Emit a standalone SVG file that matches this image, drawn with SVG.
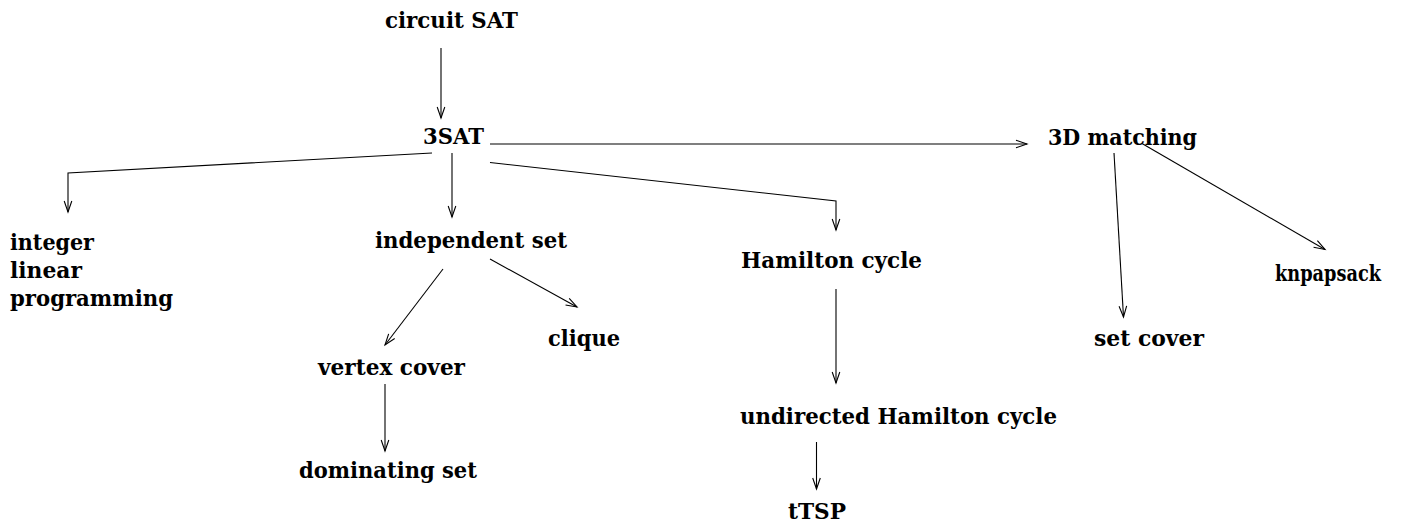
<svg xmlns="http://www.w3.org/2000/svg" width="1425" height="525" viewBox="0 0 1425 525">
  <style>
    .lbl { font-family: "DejaVu Serif", "Liberation Serif", serif; font-weight: bold; font-size: 21.5px; fill: #000; }
    .edge { fill: none; stroke: #000; stroke-width: 1.1; }
  </style>
  <defs>
    <marker id="arrow" markerUnits="userSpaceOnUse" markerWidth="14" markerHeight="10" refX="12" refY="5" orient="auto" viewBox="0 0 14 10">
      <path d="M1,1.2 L12,5 L1,8.8" fill="none" stroke="#000" stroke-width="1.1"/>
    </marker>
  </defs>
  <rect width="1425" height="525" fill="#fff"/>

  <g id="connectors">
    <path class="edge" d="M441,48 L441,118" marker-end="url(#arrow)"/>
    <path class="edge" d="M490,144 L1027,144" marker-end="url(#arrow)"/>
    <path class="edge" d="M432,153 L68,173 L68,212" marker-end="url(#arrow)"/>
    <path class="edge" d="M452,153 L452,217" marker-end="url(#arrow)"/>
    <path class="edge" d="M490,162.5 L836,201 L836,230" marker-end="url(#arrow)"/>
    <path class="edge" d="M443,269 L385,345" marker-end="url(#arrow)"/>
    <path class="edge" d="M490,259 L577,307" marker-end="url(#arrow)"/>
    <path class="edge" d="M385,384 L385,451" marker-end="url(#arrow)"/>
    <path class="edge" d="M836,289 L836,383" marker-end="url(#arrow)"/>
    <path class="edge" d="M816.5,442 L816.5,489" marker-end="url(#arrow)"/>
    <path class="edge" d="M1114,153 L1123.5,317" marker-end="url(#arrow)"/>
    <path class="edge" d="M1142,143.5 L1325,249.5" marker-end="url(#arrow)"/>
  </g>

  <g id="circuit-sat"><text class="lbl" x="385" y="28" textLength="133" lengthAdjust="spacingAndGlyphs">circuit SAT</text></g>
  <g id="three-sat"><text class="lbl" x="423" y="144" textLength="61" lengthAdjust="spacingAndGlyphs">3SAT</text></g>
  <g id="three-d-matching"><text class="lbl" x="1048" y="145" textLength="149" lengthAdjust="spacingAndGlyphs">3D matching</text></g>
  <g id="ilp">
    <text class="lbl" x="10" y="250" textLength="84" lengthAdjust="spacingAndGlyphs">integer</text>
    <text class="lbl" x="10" y="278" textLength="72" lengthAdjust="spacingAndGlyphs">linear</text>
    <text class="lbl" x="10" y="306" textLength="163" lengthAdjust="spacingAndGlyphs">programming</text>
  </g>
  <g id="independent-set"><text class="lbl" x="375" y="248" textLength="192" lengthAdjust="spacingAndGlyphs">independent set</text></g>
  <g id="hamilton-cycle"><text class="lbl" x="741" y="268" textLength="181" lengthAdjust="spacingAndGlyphs">Hamilton cycle</text></g>
  <g id="clique"><text class="lbl" x="548" y="346" textLength="72" lengthAdjust="spacingAndGlyphs">clique</text></g>
  <g id="vertex-cover"><text class="lbl" x="318" y="375" textLength="147" lengthAdjust="spacingAndGlyphs">vertex cover</text></g>
  <g id="dominating-set"><text class="lbl" x="299" y="478" textLength="178" lengthAdjust="spacingAndGlyphs">dominating set</text></g>
  <g id="undirected-hamilton-cycle"><text class="lbl" x="740" y="424" textLength="317" lengthAdjust="spacingAndGlyphs">undirected Hamilton cycle</text></g>
  <g id="ttsp"><text class="lbl" x="788" y="519" textLength="58" lengthAdjust="spacingAndGlyphs">tTSP</text></g>
  <g id="knapsack"><text class="lbl" x="1275" y="281" textLength="106" lengthAdjust="spacingAndGlyphs">knpapsack</text></g>
  <g id="set-cover"><text class="lbl" x="1094" y="346" textLength="110" lengthAdjust="spacingAndGlyphs">set cover</text></g>
</svg>
